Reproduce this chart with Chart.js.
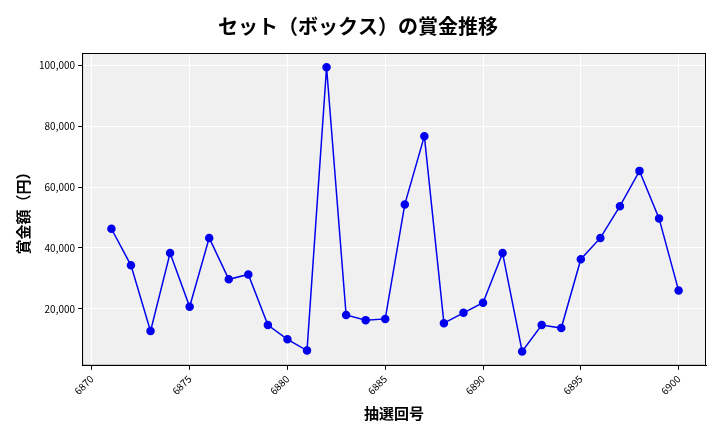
<!DOCTYPE html>
<html><head><meta charset="utf-8">
<script src="https://cdn.jsdelivr.net/npm/chart.js@4"></script>
<style>body{margin:0;background:#fff}#w{width:720px;height:432px}</style>
</head><body><div id="w"><canvas id="c"></canvas></div>
<script>
const rounds=[6871,6872,6873,6874,6875,6876,6877,6878,6879,6880,6881,6882,6883,6884,6885,6886,6887,6888,6889,6890,6891,6892,6893,6894,6895,6896,6897,6898,6899,6900];
const prizes=[46300,34300,12700,38300,20700,43300,29700,31300,14700,10000,6300,99300,18000,16300,16700,54300,76700,15300,18700,22000,38300,6000,14700,13700,36300,43300,53700,65300,49700,26000];
const xTicks=[6870,6875,6880,6885,6890,6895,6900];
const yTicks=[20000,40000,60000,80000,100000];
const F='"Noto Sans CJK JP","Noto Sans",sans-serif';
const bg={id:'bg',beforeDraw(c){const a=c.chartArea,x=c.ctx;x.save();x.fillStyle='#f0f0f0';x.fillRect(a.left,a.top,a.right-a.left,a.bottom-a.top);x.restore();},
afterDraw(c){const a=c.chartArea,x=c.ctx;x.save();x.strokeStyle='#000';x.lineWidth=1;x.strokeRect(a.left+0.5,a.top+0.5,a.right-a.left-1,a.bottom-a.top-1);x.restore();}};
new Chart(document.getElementById('c'),{type:'line',
data:{datasets:[{data:rounds.map((r,i)=>({x:r,y:prizes[i]})),borderColor:'#0000ee',backgroundColor:'#0000ee',borderWidth:1.5,pointRadius:3.5,pointHoverRadius:3.5,tension:0}]},
options:{responsive:true,maintainAspectRatio:false,animation:false,
layout:{padding:{left:10,right:14,top:10,bottom:6}},
plugins:{legend:{display:false},tooltip:{enabled:false},
title:{display:true,text:'セット（ボックス）の賞金推移',color:'#000',font:{family:F,size:20,weight:'bold'},padding:{top:4,bottom:15}}},
scales:{
x:{type:'linear',min:6869.5,max:6901.4,afterBuildTicks(s){s.ticks=xTicks.map(v=>({value:v}));},
ticks:{color:'#000',font:{family:F,size:10},maxRotation:45,minRotation:45,callback:v=>String(v)},
grid:{color:'#fff',lineWidth:1,tickColor:'#000',tickLength:4},border:{color:'#000'},
title:{display:true,text:'抽選回号',color:'#000',font:{family:F,size:15,weight:'bold'}}},
y:{min:1300,max:104000,afterBuildTicks(s){s.ticks=yTicks.map(v=>({value:v}));},
ticks:{color:'#000',font:{family:F,size:10},callback:v=>v.toLocaleString('en-US')},
grid:{color:'#fff',lineWidth:1,tickColor:'#000',tickLength:4},border:{color:'#000'},
title:{display:true,text:'賞金額（円）',color:'#000',font:{family:F,size:15,weight:'bold'}}}}},
plugins:[bg]});
</script></body></html>
